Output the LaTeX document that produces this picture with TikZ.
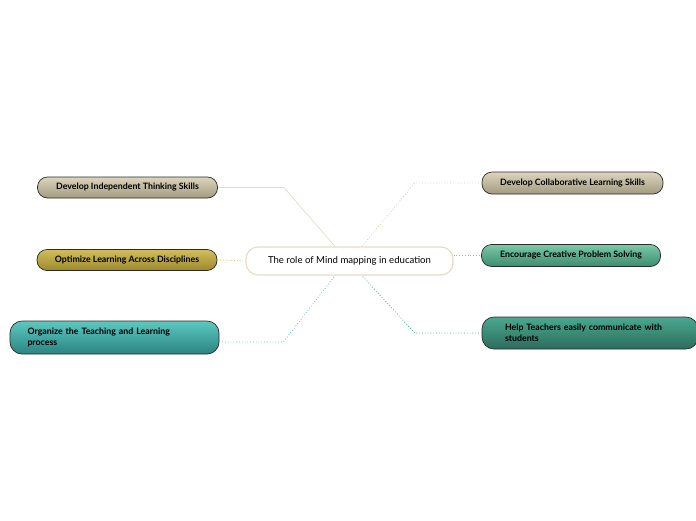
\documentclass[tikz,border=0pt]{standalone}
\usepackage{fontspec}
\setmainfont{Lato}
\usepackage{xcolor}
\usepackage{tikz}
\usetikzlibrary{arrows.meta,positioning,calc}
\definecolor{Sand}{HTML}{DCD5BD}
\definecolor{SandDark}{HTML}{A29B80}
\definecolor{Gold}{HTML}{D2BE5E}
\definecolor{GoldDark}{HTML}{9E882C}
\definecolor{Lagoon}{HTML}{5CC8C0}
\definecolor{LagoonDark}{HTML}{2C8480}
\definecolor{Mint}{HTML}{7AC9A9}
\definecolor{MintDark}{HTML}{3C8C70}
\definecolor{Pine}{HTML}{4AA890}
\definecolor{PineDark}{HTML}{2C6C5C}
\definecolor{CoreRim}{HTML}{E4DDC6}
\definecolor{SandLine}{HTML}{D6CDAE}
\definecolor{Rim}{HTML}{2A2A2A}

\begin{document}
\begin{tikzpicture}[x=1pt,y=-1pt,
  topic/.style={draw=Rim,line width=0.7pt,rounded corners=10pt,minimum height=21pt,inner sep=0pt,font=\fontsize{8.8}{10.5}\selectfont\bfseries,align=center},
  core/.style={draw=CoreRim,fill=white,line width=1.2pt,rounded corners=12pt,minimum width=207pt,minimum height=28pt,font=\fontsize{9.6}{11}\selectfont},
  link/.style={line width=0.8pt,dotted}
]
\useasboundingbox (0,0) rectangle (696,520);
\node[core] (role) at (349.5,261) {The role of Mind mapping in education};
% left side
\node[topic,top color=Sand,bottom color=SandDark,minimum width=180pt] (indep) at (127.5,187.5) {Develop Independent Thinking Skills};
\node[topic,top color=Gold,bottom color=GoldDark,minimum width=180pt] (optim) at (127,260) {Optimize Learning Across Disciplines};
\node[topic,top color=Lagoon,bottom color=LagoonDark,minimum width=209pt,minimum height=33pt,rounded corners=12pt,text width=174pt,align=left] (organ) at (114.5,337.5) {Organize the Teaching and Learning\\process};
% right side
\node[topic,top color=Sand,bottom color=SandDark,minimum width=181pt,minimum height=22pt] (collab) at (572.5,183) {Develop Collaborative Learning Skills};
\node[topic,top color=Mint,bottom color=MintDark,minimum width=179pt,minimum height=22pt] (creat) at (571,255.5) {Encourage Creative Problem Solving};
\node[topic,top color=Pine,bottom color=PineDark,minimum width=216pt,minimum height=32pt,rounded corners=12pt,text width=170pt,align=left] (help) at (590,333) {Help Teachers easily communicate with\\students};
% connectors
\draw[line width=0.7pt,draw=CoreRim] (indep.east) -- ++(66,0) -- ([xshift=-14.5pt]role.north);
\draw[link,draw=SandLine] (collab.west) -- ++(-67,0) -- ([xshift=12.5pt]role.north);
\draw[link,draw=Gold] (optim.east) -- (role.west);
\draw[link,draw=Mint] (role.east |- creat.west) -- (creat.west);
\draw[link,draw=Lagoon] ([yshift=-4.5pt]organ.east) -- ++(64,0) -- ([xshift=-14.5pt]role.south);
\draw[link,draw=Pine] (help.west) -- ++(-67,0) -- ([xshift=12.5pt]role.south);
\end{tikzpicture}
\end{document}
